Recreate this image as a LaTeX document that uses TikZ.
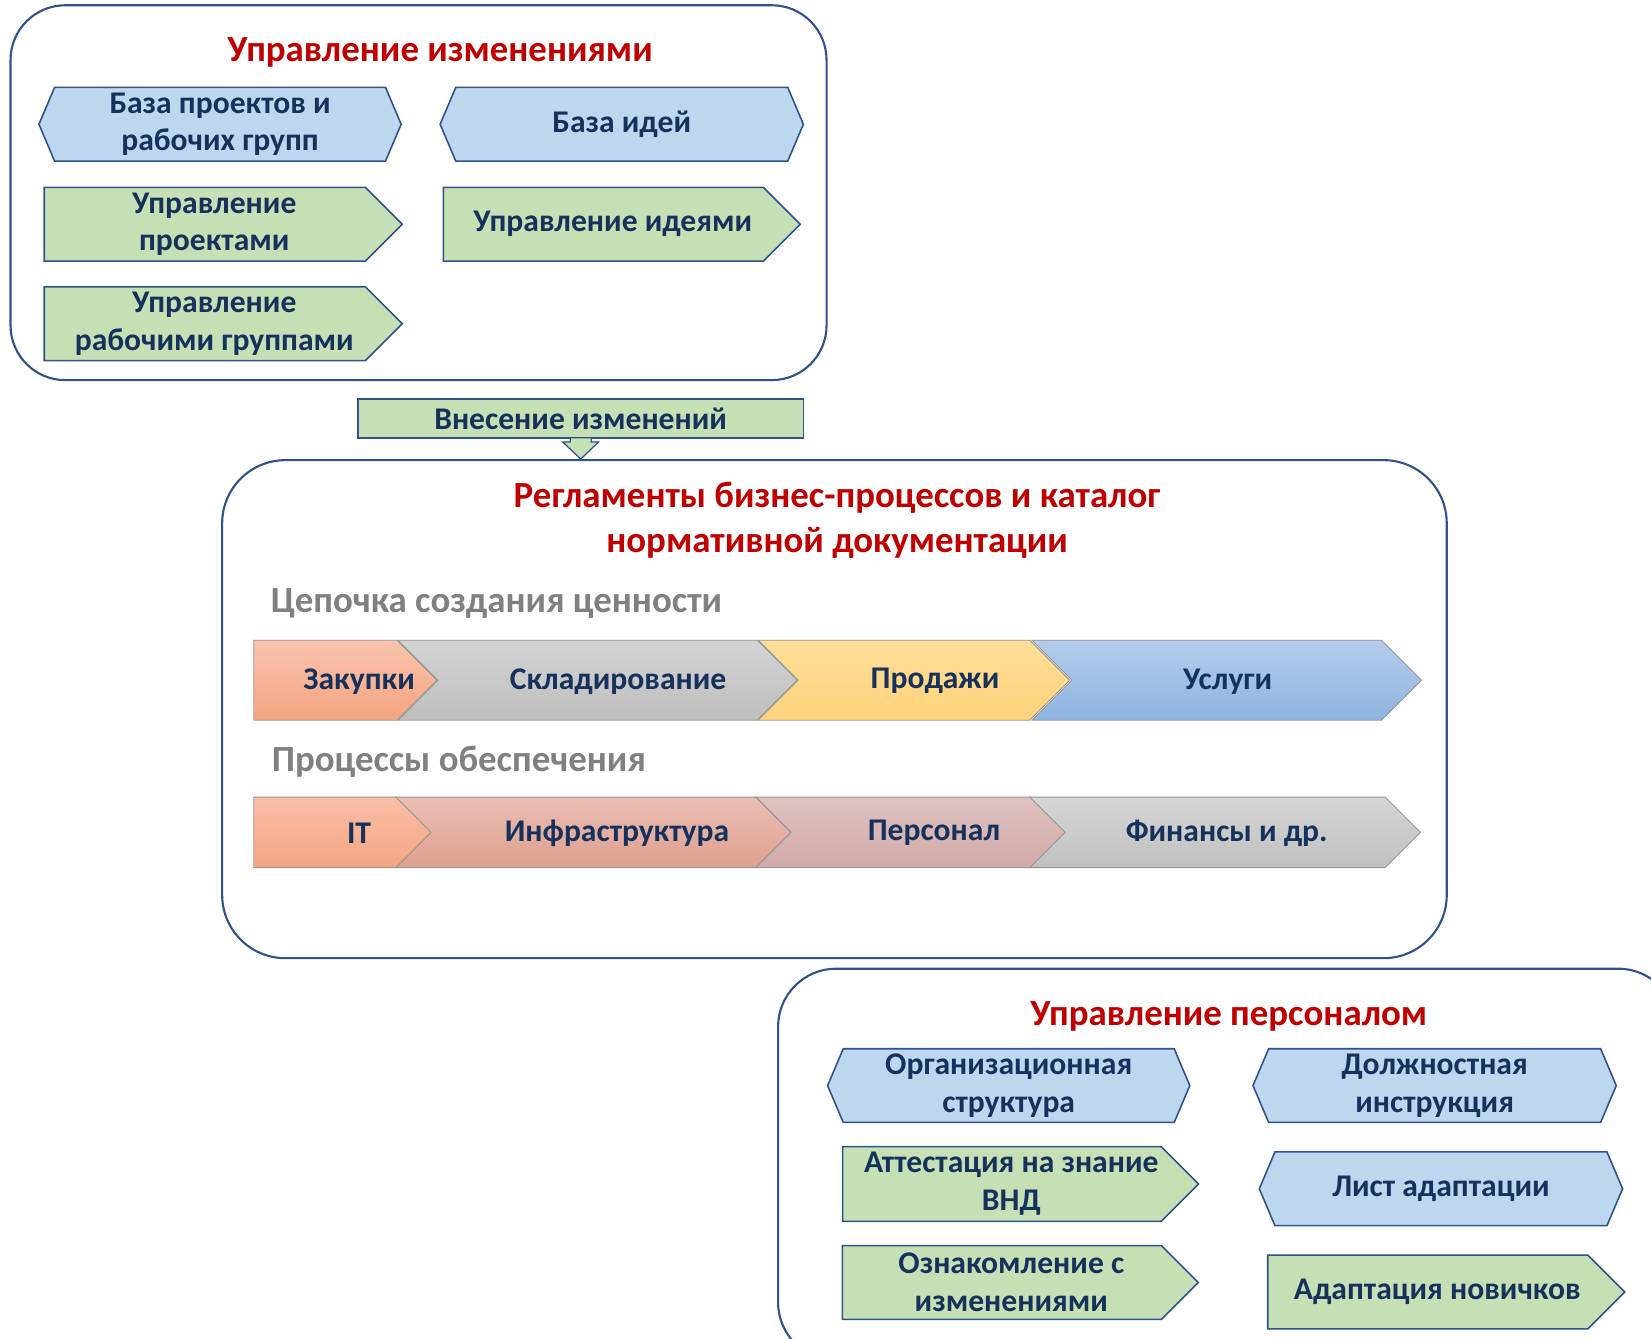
\documentclass[tikz,border=0pt]{standalone}
\usepackage{fontspec}
\setmainfont{Carlito}
\usetikzlibrary{shapes.symbols, positioning, calc}
\definecolor{frameblue}{RGB}{47,82,143}
\definecolor{titlered}{RGB}{192,0,0}
\definecolor{headgray}{RGB}{128,128,128}
\definecolor{navytext}{RGB}{22,50,92}
\definecolor{hexblue}{RGB}{189,215,238}
\definecolor{boxgreen}{RGB}{197,224,180}
\definecolor{chevline}{RGB}{150,150,150}

\begin{document}
\begin{tikzpicture}[x=1pt, y=-1pt,
  group/.style={draw=frameblue, line width=2pt, rounded corners=52pt, inner sep=0pt},
  heading/.style={text=titlered, font=\bfseries\fontsize{35}{43}\selectfont, align=center},
  subhead/.style={text=headgray, font=\bfseries\fontsize{35}{40}\selectfont, anchor=west, inner sep=0pt},
  boxtext/.style={text=navytext, font=\bfseries\fontsize{30}{36}\selectfont, align=center},
  hexbox/.style={boxtext, shape=signal, signal to=east and west, signal pointer angle=134, draw=frameblue, line width=1.5pt, fill=hexblue, minimum width=345pt, minimum height=70pt, inner sep=0pt},
  arrowbox/.style={shape=signal, signal to=east, signal pointer angle=90, draw=frameblue, line width=1.5pt, fill=boxgreen, minimum width=340pt, minimum height=70pt, inner sep=0pt, xshift=-17.5pt},
  chevron/.style={shape=signal, signal to=east, signal from=west, signal pointer angle=90, draw=chevline, line width=0.8pt, inner sep=0pt},
  chevstart/.style={chevron, signal from=nowhere}
]
\useasboundingbox (0,0) rectangle (1568,1271);

% change management
\node[group, minimum width=775pt, minimum height=356pt] (chg) at (397.5,183) {};
\node[heading] (chgtitle) at (418,50) {Управление изменениями};
\node[hexbox, minimum width=344pt] (projbase) at (209,118) {База проектов и\\рабочих групп};
\node[hexbox] (ideabase) at (590.5,118) {База идей};
\node[arrowbox] (projmgmt) at (212,213) {};
\node[arrowbox, minimum width=339pt] (ideamgmt) at (590.5,213) {};
\node[arrowbox] (teammgmt) at (212,307.5) {};
\node[boxtext] (projtext) at ([xshift=9pt]projmgmt.center) {Управление\\проектами};
\node[boxtext] (ideatext) at ([xshift=9pt]ideamgmt.center) {Управление идеями};
\node[boxtext] (teamtext) at ([xshift=9pt]teammgmt.center) {Управление\\рабочими группами};

\node[boxtext, draw=frameblue, line width=1.5pt, fill=boxgreen, minimum width=423pt, minimum height=37pt, inner sep=0pt] (change) at (551.5,397.5) {Внесение изменений};

% regulations
\node[group, rounded corners=60pt, minimum width=1163pt, minimum height=473pt] (regl) at (792.5,673.5) {};
\node[heading] (regltitle) at (795,494) {Регламенты бизнес-процессов и каталог\\нормативной документации};

\draw[draw=frameblue, line width=1.2pt, fill=boxgreen]
  ($(change.south)+(-10,-1)$) -- ++(0,4) -- ++(-7,0) -- (change.south |- regl.north)
  -- ($(change.south)+(17,3)$) -- ++(-7,0) -- ++(0,-4) -- cycle;

\node[subhead] (chainhead) at (257,573) {Цепочка создания ценности};
\node[chevstart, minimum width=174pt, minimum height=76pt, xshift=-19pt, top color={rgb,255:red,248;green,196;blue,172}, bottom color={rgb,255:red,244;green,164;blue,128}] (buy) at (328,646) {};
\node[chevron, minimum width=379pt, minimum height=76pt, top color={rgb,255:red,212;green,212;blue,212}, bottom color={rgb,255:red,190;green,190;blue,190}] (store) at (567.5,646) {};
\node[chevron, minimum width=296pt, minimum height=76pt, top color={rgb,255:red,255;green,222;blue,152}, bottom color={rgb,255:red,255;green,210;blue,122}] (sell) at (868,646) {};
\node[chevron, minimum width=370pt, minimum height=76pt, top color={rgb,255:red,180;green,204;blue,234}, bottom color={rgb,255:red,143;green,180;blue,224}] (serv) at (1165,646) {};
\node[boxtext] (buytext) at (341,647) {Закупки};
\node[boxtext] (storetext) at (587,647) {Складирование};
\node[boxtext] (selltext) at (888,647) {Продажи};
\node[boxtext] (servtext) at (1166,647) {Услуги};

\node[subhead] (supphead) at (258,723) {Процессы обеспечения};
\node[chevstart, minimum width=169pt, minimum height=67pt, xshift=-16.75pt, top color={rgb,255:red,248;green,190;blue,166}, bottom color={rgb,255:red,245;green,165;blue,130}] (it) at (325.5,790.5) {};
\node[chevron, minimum width=375pt, minimum height=67pt, top color={rgb,255:red,234;green,190;blue,178}, bottom color={rgb,255:red,222;green,160;blue,144}] (infra) at (563.5,790.5) {};
\node[chevron, minimum width=294pt, minimum height=67pt, top color={rgb,255:red,222;green,194;blue,192}, bottom color={rgb,255:red,208;green,170;blue,168}] (staff) at (865,790.5) {};
\node[chevron, minimum width=371pt, minimum height=67pt, top color={rgb,255:red,214;green,214;blue,214}, bottom color={rgb,255:red,192;green,192;blue,192}] (fin) at (1163.5,790.5) {};
\node[boxtext] (ittext) at (341,791) {IT};
\node[boxtext] (infratext) at (586,791) {Инфраструктура};
\node[boxtext] (stafftext) at (887,791) {Персонал};
\node[boxtext] (fintext) at (1165,791) {Финансы и др.};

% personnel
\node[group, rounded corners=55pt, minimum width=853pt, minimum height=372pt] (hr) at (1165.5,1106) {};
\node[heading] (hrtitle) at (1167,965) {Управление персоналом};
\node[hexbox, minimum width=344pt] (orgstruct) at (958,1031) {Организационная\\структура};
\node[hexbox] (jobdesc) at (1362.5,1031) {Должностная\\инструкция};
\node[arrowbox, minimum width=338pt, minimum height=71pt] (attest) at (969,1124.5) {};
\node[hexbox] (adaptlist) at (1368.5,1129) {Лист адаптации};
\node[arrowbox, minimum width=338pt] (review) at (969,1218) {};
\node[arrowbox, minimum width=339pt] (newbie) at (1373.5,1227) {};
\node[boxtext] (attesttext) at ([xshift=9pt]attest.center) {Аттестация на знание\\ВНД};
\node[boxtext] (reviewtext) at ([xshift=9pt]review.center) {Ознакомление с\\изменениями};
\node[boxtext] (newbietext) at ([xshift=9pt]newbie.center) {Адаптация новичков};
\end{tikzpicture}
\end{document}
